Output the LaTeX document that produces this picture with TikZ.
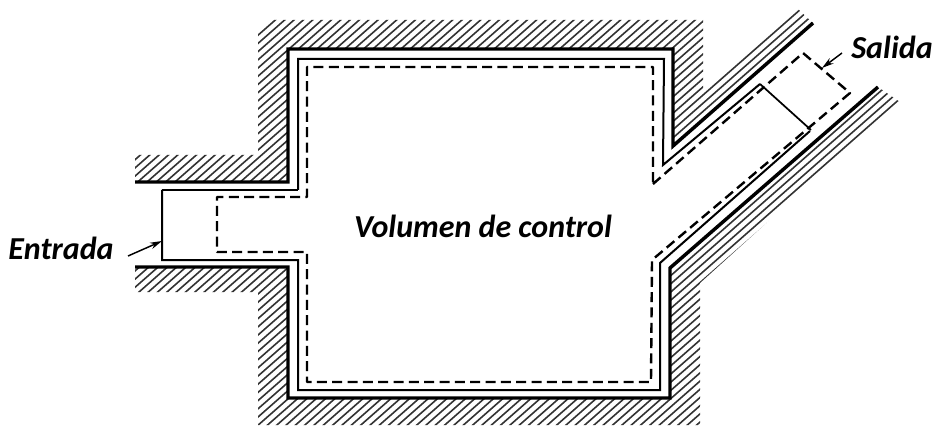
\documentclass[tikz,border=0pt]{standalone}
\usepackage{fontspec}
\setmainfont{Carlito}
\usetikzlibrary{arrows.meta}
\tikzset{
  wallline/.style={line width=2.6pt,line join=miter},
  fluidline/.style={line width=1.5pt,line join=miter},
  section/.style={line width=1.3pt},
  cvline/.style={line width=1.8pt,dash pattern=on 7.5pt off 4pt,line join=round},
  hatchline/.style={line width=1.2pt,black!80},
  lbl/.style={font=\fontsize{24}{28}\selectfont\bfseries\itshape,inner sep=0pt},
  pointer/.style={line width=1.1pt,-{Stealth[length=9pt,width=5pt]}}
}
\begin{document}
\begin{tikzpicture}[x=0.75pt,y=-0.75pt]
\useasboundingbox (0,0) rectangle (933,428);
% upper hatching
\begin{scope}
\clip (135,155) -- (258,155) -- (258,20) -- (703,20) -- (703,91) -- (797,8) -- (813,23)
  -- (673,146) -- (673,50) -- (288,50) -- (288,182) -- (135,182) -- cycle;
\foreach \k in {0,...,58}{
  \pgfmathsetmacro{\c}{737.6-8.2*\k}
  \draw[hatchline] (100,{\c-0.879*100}) -- (850,{\c-0.879*850});
}
\end{scope}
% lower hatching
\begin{scope}
\clip (135,267) -- (288,267) -- (288,398) -- (670,398) -- (670,268) -- (878,87) -- (900,102)
  -- (700,283) -- (700,425) -- (258,425) -- (258,292) -- (135,292) -- cycle;
\foreach \k in {-58,...,24}{
  \pgfmathsetmacro{\c}{857+8.2*\k}
  \draw[hatchline] (100,{\c-0.879*100}) -- (920,{\c-0.879*920});
}
\end{scope}
% wall boundaries
\draw[wallline] (135,182) -- (288,182) -- (288,49) -- (673,49) -- (673,146) -- (813,23);
\draw[wallline] (135,267) -- (288,267) -- (288,398) -- (670,398) -- (670,268) -- (878,87);
% fluid boundary
\draw[fluidline] (298,190) -- (298,59) -- (664,59) -- (663,165) -- (760,84);
\draw[fluidline] (162,190) -- (298,190);
\draw[fluidline] (162,190) -- (162,260) -- (298,260) -- (298,390) -- (660,390) -- (660,263) -- (810,131);
% sections
\draw[section] (760,84) -- (811,130);
% control volume
\draw[cvline] (653,184) -- (803,53) -- (850,93) -- (652,260) -- (651,382) -- (307,382)
  -- (307,252) -- (217,252) -- (217,197) -- (307,197) -- (307,67) -- (653,67) -- cycle;
% labels
\node[lbl] (vc) at (483,226) {Volumen de control};
\node[lbl] (ent) at (61,248) {Entrada};
\node[lbl] (sal) at (892,47) {Salida};
\coordinate (enttip) at (162,241);
\coordinate (entstart) at (128,256);
\coordinate (saltip) at (822,68);
\coordinate (salstart) at (842,53);
\draw[pointer] (entstart) -- (enttip);
\draw[pointer] (salstart) -- (saltip);
\end{tikzpicture}
\end{document}
